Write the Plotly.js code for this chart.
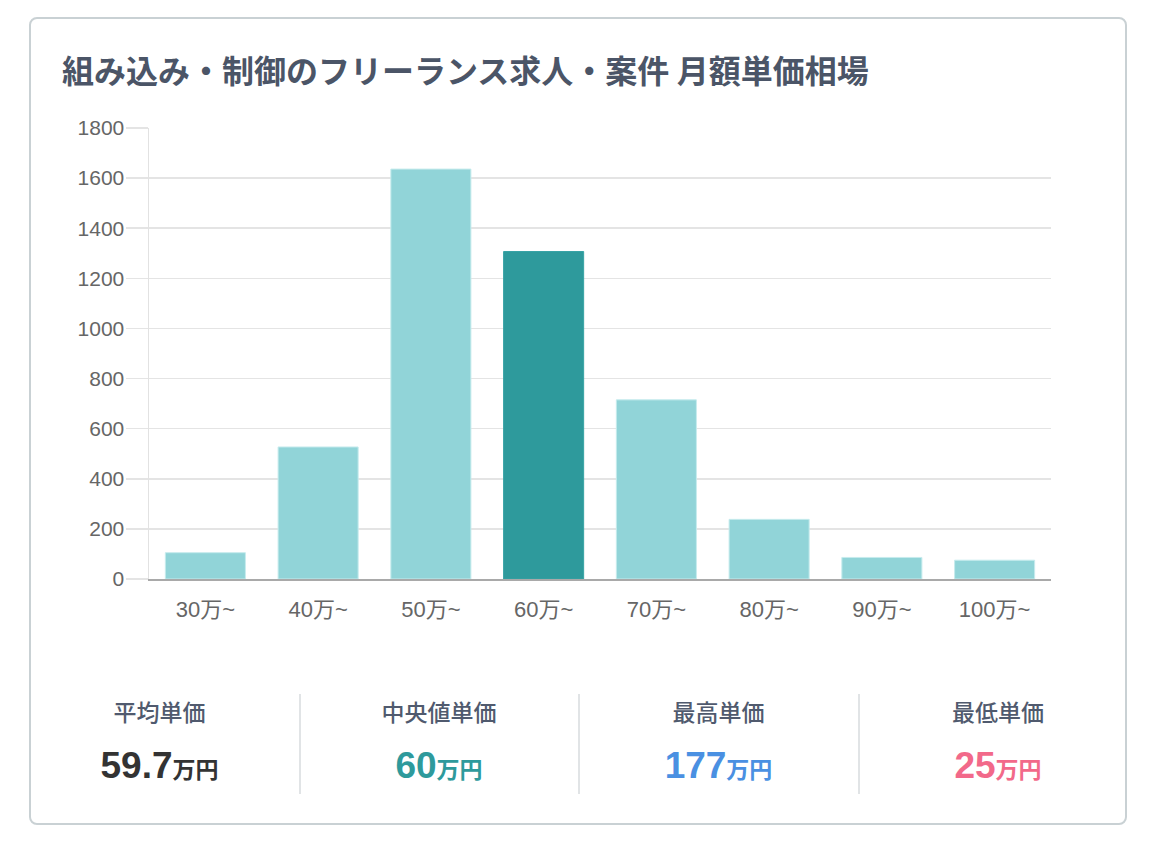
<!DOCTYPE html>
<html>
<head>
<meta charset="utf-8">
<script src="https://cdn.plot.ly/plotly-3.0.1.min.js"></script>
<style>
  html, body { margin: 0; padding: 0; background: #ffffff; }
  body { width: 1159px; height: 850px; position: relative; overflow: hidden;
         font-family: "Liberation Sans", "Noto Sans CJK JP", sans-serif; }
  .card { position: absolute; left: 29px; top: 17px; width: 1094px; height: 804px;
          border: 2px solid #c9d1d4; border-radius: 8px; background: #fff; }
  #chart { position: absolute; left: 0; top: 0; width: 1159px; height: 850px; }
  .stat { position: absolute; top: 694px; width: 279px; text-align: center; }
  .stat .label { font-family: "Noto Sans CJK JP", sans-serif; font-size: 23px;
                 color: #505a6e; line-height: 34px; font-weight: 500; }
  .stat .value { margin-top: 18px; font-family: "Liberation Sans", "Noto Sans CJK JP", sans-serif;
                 font-weight: bold; font-size: 37px; line-height: 40px; }
  .stat .value span { font-family: "Noto Sans CJK JP", sans-serif; font-size: 23px; font-weight: bold; }
  .divider { position: absolute; top: 694px; width: 2px; height: 100px; background: #e1e4e6; }
</style>
</head>
<body>
<div class="card"></div>
<div id="chart"></div>
<div id="stats"></div>
<script>
// Monthly rate bands and job counts
const categories = ["30万~", "40万~", "50万~", "60万~", "70万~", "80万~", "90万~", "100万~"];
const counts = [105, 527, 1636, 1307, 715, 238, 86, 75];
const highlightIndex = 3;   // band containing the median

// Summary figures shown under the chart
const statLabels = ["平均単価", "中央値単価", "最高単価", "最低単価"];
const statValues = ["59.7", "60", "177", "25"];
const statUnit = "万円";
const statColors = ["#333333", "#2e9a9c", "#4a90e2", "#f2698a"];

const fillColors = categories.map((_, i) => i === highlightIndex ? "#2e9a9c" : "#91d4d8");
const edgeColors = categories.map((_, i) => i === highlightIndex ? "#37a3a5" : "#c6ebed");

const trace = {
  type: "bar",
  x: categories,
  y: counts,
  marker: { color: fillColors, line: { color: edgeColors, width: 1 } },
  hoverinfo: "x+y"
};

const layout = {
  width: 1159,
  height: 850,
  margin: { l: 149, r: 108, t: 128, b: 271, pad: 0 },
  paper_bgcolor: "rgba(0,0,0,0)",
  plot_bgcolor: "rgba(0,0,0,0)",
  bargap: 0.29,
  showlegend: false,
  title: {
    text: "<b>組み込み・制御のフリーランス求人・案件 月額単価相場</b>",
    font: { family: "Noto Sans CJK JP, sans-serif", size: 32, color: "#4b5567" },
    xref: "container", yref: "container",
    x: 62 / 1159, xanchor: "left",
    y: 1 - 72 / 850, yanchor: "middle"
  },
  xaxis: {
    type: "category",
    showgrid: false,
    showline: true, linecolor: "#a9a9a9", linewidth: 2,
    ticks: "outside", ticklen: 10, tickcolor: "rgba(0,0,0,0)",
    tickfont: { family: "Liberation Sans, Noto Sans CJK JP, sans-serif", size: 22, color: "#666666" },
    zeroline: false,
    fixedrange: true
  },
  yaxis: {
    range: [0, 1800],
    dtick: 200,
    tick0: 0,
    showgrid: true, gridcolor: "#e4e4e4", gridwidth: 1.5,
    showline: true, linecolor: "#e2e2e2", linewidth: 1.5,
    ticks: "outside", ticklen: 22, tickcolor: "#e4e4e4", tickwidth: 1.5,
    ticklabelstandoff: -3,
    tickfont: { family: "Liberation Sans, Noto Sans CJK JP, sans-serif", size: 21, color: "#666666" },
    zeroline: false,
    fixedrange: true
  }
};

Plotly.newPlot("chart", [trace], layout, { displayModeBar: false, staticPlot: true });

// Summary row
const stats = document.getElementById("stats");
const colLeft = 20, colWidth = 279.5;
statLabels.forEach((label, i) => {
  const box = document.createElement("div");
  box.className = "stat";
  box.style.left = (colLeft + i * colWidth) + "px";
  const l = document.createElement("div");
  l.className = "label";
  l.textContent = label;
  const v = document.createElement("div");
  v.className = "value";
  v.style.color = statColors[i];
  v.textContent = statValues[i];
  const u = document.createElement("span");
  u.textContent = statUnit;
  v.appendChild(u);
  box.appendChild(l);
  box.appendChild(v);
  stats.appendChild(box);
  if (i > 0) {
    const d = document.createElement("div");
    d.className = "divider";
    d.style.left = (colLeft + i * colWidth - 1) + "px";
    stats.appendChild(d);
  }
});
</script>
</body>
</html>
